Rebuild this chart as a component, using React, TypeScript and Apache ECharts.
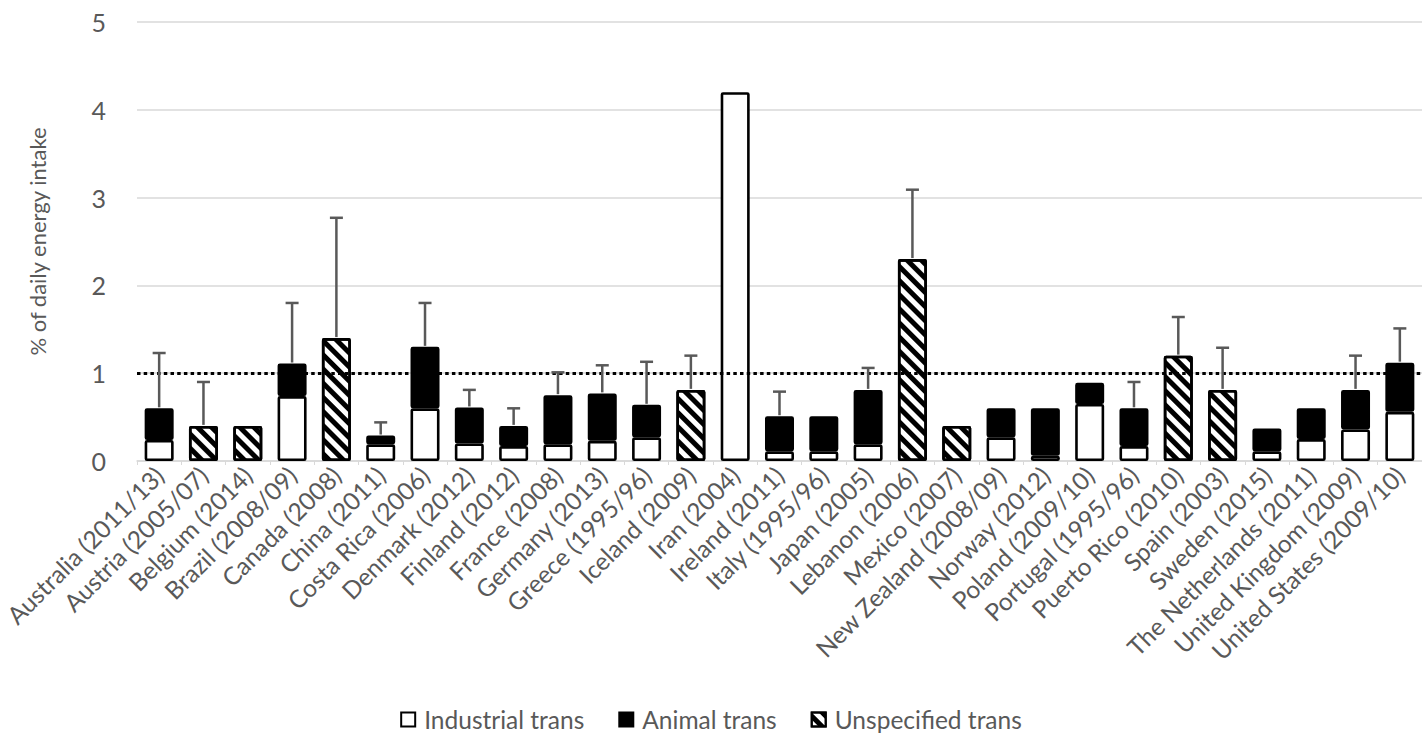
import React, { useEffect, useRef } from 'react';
import * as echarts from 'echarts';

const categories = [
  'Australia (2011/13)', 'Austria (2005/07)', 'Belgium (2014)', 'Brazil (2008/09)', 'Canada (2008)',
  'China (2011)', 'Costa Rica (2006)', 'Denmark (2012)', 'Finland (2012)', 'France (2008)',
  'Germany (2013)', 'Greece (1995/96)', 'Iceland (2009)', 'Iran (2004)', 'Ireland (2011)',
  'Italy (1995/96)', 'Japan (2005)', 'Lebanon (2006)', 'Mexico (2007)', 'New Zealand (2008/09)',
  'Norway (2012)', 'Poland (2009/10)', 'Portugal (1995/96)', 'Puerto Rico (2010)', 'Spain (2003)',
  'Sweden (2015)', 'The Netherlands (2011)', 'United Kingdom (2009)', 'United States (2009/10)',
];

const industrial = [
  0.24, null, null, 0.74, null, 0.19, 0.60, 0.20, 0.17, 0.19,
  0.23, 0.27, null, 4.2, 0.11, 0.11, 0.19, null, null, 0.27,
  0.06, 0.65, 0.17, null, null, 0.11, 0.25, 0.36, 0.56,
];

const animal = [
  0.36, null, null, 0.37, null, 0.10, 0.70, 0.41, 0.23, 0.56,
  0.54, 0.37, null, null, 0.40, 0.40, 0.62, null, null, 0.33,
  0.54, 0.24, 0.43, null, null, 0.26, 0.35, 0.45, 0.56,
];

const unspecified = [
  null, 0.40, 0.40, null, 1.40, null, null, null, null, null,
  null, null, 0.81, null, null, null, null, 2.30, 0.40, null,
  null, null, null, 1.20, 0.81, null, null, null, null,
];

const errorUpper = [
  1.23, 0.90, null, 1.80, 2.77, 0.44, 1.80, 0.81, 0.60, 1.01,
  1.09, 1.13, 1.20, null, 0.79, null, 1.06, 3.09, null, null,
  null, null, 0.90, 1.64, 1.29, null, null, 1.20, 1.51,
];

const referenceLevel = 1;
const seriesNames = ['Industrial trans', 'Animal trans', 'Unspecified trans'];

const FONT = 'Lato, "Open Sans", sans-serif';
const TEXT = '#595959';

export default function App() {
  const ref = useRef<HTMLDivElement>(null);

  useEffect(() => {
    document.body.style.margin = '0';
    const chart = echarts.init(ref.current!, null, { renderer: 'svg' });
    const totals = categories.map(
      (_, i) => (industrial[i] ?? 0) + (animal[i] ?? 0) + (unspecified[i] ?? 0)
    );
    const errData = categories
      .map((_, i) => (errorUpper[i] == null ? null : [i, totals[i], errorUpper[i]]))
      .filter((d) => d !== null);

    const barBase = {
      type: 'bar',
      stack: 'total',
      barWidth: 29,
      itemStyle: { borderColor: '#000', borderWidth: 2.6, borderRadius: 1 },
    };

    chart.setOption({
      animation: false,
      textStyle: { fontFamily: FONT },
      grid: { left: 134.7, right: -5, top: 22, bottom: 276 },
      legend: {
        data: seriesNames,
        bottom: 0,
        left: 'center',
        itemWidth: 14,
        itemHeight: 14,
        itemGap: 34,
        icon: 'rect',
        textStyle: { fontSize: 24.5, color: TEXT, fontFamily: FONT, padding: [0, 0, 0, 4] },
      },
      xAxis: {
        type: 'category',
        data: categories,
        axisLine: { lineStyle: { color: '#d9d9d9', width: 1.5 } },
        axisTick: { show: true, length: 4, lineStyle: { color: '#d9d9d9' } },
        axisLabel: {
          rotate: 45,
          interval: 0,
          fontSize: 24.5,
          color: TEXT,
          fontFamily: FONT,
          margin: 10,
        },
      },
      yAxis: {
        type: 'value',
        min: 0,
        max: 5,
        interval: 1,
        name: '% of daily energy intake',
        nameLocation: 'middle',
        nameGap: 88,
        nameTextStyle: { fontSize: 22, color: TEXT, fontFamily: FONT },
        axisLine: { show: false },
        axisTick: { show: false },
        axisLabel: { fontSize: 25, color: TEXT, fontFamily: FONT, margin: 31 },
        splitLine: { lineStyle: { color: '#d9d9d9', width: 1.5 } },
      },
      series: [
        {
          ...barBase,
          name: seriesNames[0],
          data: industrial,
          itemStyle: { ...barBase.itemStyle, color: '#fff' },
        },
        {
          ...barBase,
          name: seriesNames[1],
          data: animal,
          itemStyle: { ...barBase.itemStyle, color: '#000' },
        },
        {
          ...barBase,
          name: seriesNames[2],
          data: unspecified,
          itemStyle: {
            ...barBase.itemStyle,
            color: '#fff',
            decal: {
              symbol: 'rect',
              symbolSize: 1,
              dashArrayX: [1, 0],
              dashArrayY: [5, 4.5],
              rotation: Math.PI / 4,
              color: '#000',
              backgroundColor: '#fff',
            },
          },
        },
        {
          type: 'custom',
          name: 'error',
          z: 5,
          data: errData,
          encode: { x: 0, y: [1, 2] },
          renderItem: (params: any, api: any) => {
            const x = api.value(0);
            const p0 = api.coord([x, api.value(1)]);
            const p1 = api.coord([x, api.value(2)]);
            const style = { stroke: '#595959', lineWidth: 2.5 };
            return {
              type: 'group',
              children: [
                { type: 'line', shape: { x1: p0[0], y1: p0[1] - 1, x2: p1[0], y2: p1[1] }, style },
                { type: 'line', shape: { x1: p1[0] - 6.5, y1: p1[1], x2: p1[0] + 6.5, y2: p1[1] }, style },
              ],
            };
          },
          markLine: {
            silent: true,
            symbol: 'none',
            label: { show: false },
            lineStyle: { color: '#000', type: [3.5, 3.2], width: 3.2 },
            data: [{ yAxis: referenceLevel }],
          },
        },
      ],
    });
    return () => chart.dispose();
  }, []);

  return <div ref={ref} style={{ width: 1422, height: 737 }} />;
}
